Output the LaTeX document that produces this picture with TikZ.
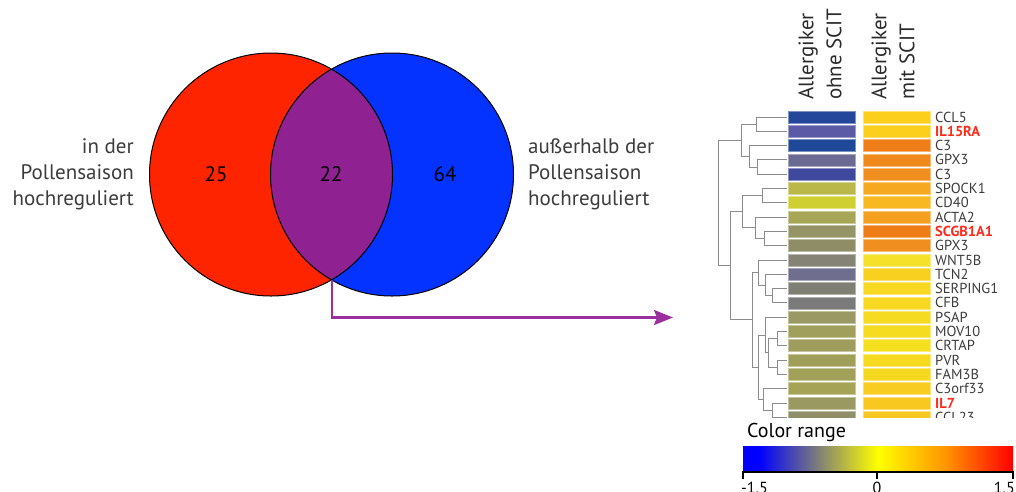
\documentclass[tikz,border=0pt]{standalone}
\usepackage{fontspec}
\setmainfont{PT Sans}
\usetikzlibrary{arrows.meta}
\definecolor{vred}{HTML}{FF2400}
\definecolor{vblue}{HTML}{0433FF}
\definecolor{vpurp}{HTML}{8F2290}
\definecolor{lila}{HTML}{9B2FA0}
\definecolor{ink}{HTML}{2A2A2A}
\definecolor{mut}{HTML}{3C3C3C}
\definecolor{dendro}{HTML}{8C8C8C}
\definecolor{hot}{HTML}{FF2A1A}
\definecolor{barblue}{HTML}{0000FF}
\definecolor{bargray}{HTML}{808078}
\definecolor{baryel}{HTML}{FFFF00}
\definecolor{barorg}{HTML}{FF9500}
\definecolor{barred}{HTML}{FF0000}
\pgfdeclarehorizontalshading{colrange}{100bp}{color(0bp)=(barblue); color(28bp)=(barblue);
  color(39bp)=(bargray); color(50bp)=(baryel); color(62.5bp)=(barorg); color(75bp)=(barred);
  color(100bp)=(barred)}

\begin{document}
\begin{tikzpicture}[x=1pt,y=-1pt,
    venntxt/.style={font=\fontsize{21}{26}\selectfont,color=mut,inner sep=0pt},
    vennnum/.style={font=\fontsize{21}{26}\selectfont,color=black},
    hdr/.style={font=\fontsize{21}{28}\selectfont,color=ink,rotate=90,anchor=west,align=left,inner sep=0pt},
    gene/.style={font=\fontsize{14.5}{15}\selectfont,color=mut,anchor=west,inner sep=0pt},
    hot/.style={gene,color=hot,font=\fontsize{14.5}{15}\selectfont\bfseries},
    dlink/.style={dendro,line width=1pt}]
  \useasboundingbox (0,0) rectangle (1016,491);
  % venn diagram
  \fill[vred] (271,174.5) circle[radius=121.5pt];
  \fill[vblue] (392,174.5) circle[radius=121.5pt];
  \begin{scope}
    \clip (271,174.5) circle[radius=121.5pt];
    \fill[vpurp] (392,174.5) circle[radius=121.5pt];
  \end{scope}
  \draw[line width=1pt] (271,174.5) circle[radius=121.5pt]
    (392,174.5) circle[radius=121.5pt];
  \node[vennnum] (n25) at (216,174) {25};
  \node[vennnum] (n22) at (331,174) {22};
  \node[vennnum] (n64) at (445,174) {64};
  \node[venntxt,anchor=east,align=right] (intxt) at (134,174)
    {in der\\Pollensaison\\hochreguliert};
  \node[venntxt,anchor=west,align=left] (outtxt) at (528,174)
    {außerhalb der\\Pollensaison\\hochreguliert};
  % arrow to the heat map
  \coordinate (lensbot) at (332,279.5);
  \coordinate (arrtip) at (673,317.5);
  \draw[lila,line width=2.5pt,-{Stealth[length=19pt,width=15pt,inset=3pt]}]
    (lensbot) |- (arrtip);
  % column heads
  \node[hdr] (hdra) at (820,100) {Allergiker\\ohne SCIT};
  \node[hdr] (hdrb) at (893,100) {Allergiker\\mit SCIT};
  % heat map, cut off below
  \begin{scope}
    \clip (700,100) rectangle (1016,417.5);
    \foreach \i/\ca/\cb/\gene/\sty in {
        0/24479C/FCCF1C/CCL5/gene,
        1/5A5AA6/FCCF1C/IL15RA/hot,
        2/1F4898/EF7E18/C3/gene,
        3/6B6A92/F0891C/GPX3/gene,
        4/3E499E/F08F20/C3/gene,
        5/B9B849/F6A920/SPOCK1/gene,
        6/CFCF31/F8B821/CD40/gene,
        7/A7A657/F4A020/ACTA2/gene,
        8/959466/EE7D18/SCGB1A1/hot,
        9/8E8D66/F08F20/GPX3/gene,
        10/848375/F5E02A/WNT5B/gene,
        11/6F6E8E/F8D020/TCN2/gene,
        12/807F74/F8D820/SERPING1/gene,
        13/7A7A7A/F8D820/CFB/gene,
        14/9A9963/F5DC22/PSAP/gene,
        15/A09F5B/F5DC20/MOV10/gene,
        16/9E9D5D/F5E020/CRTAP/gene,
        17/A09F59/F5DA20/PVR/gene,
        18/A2A15A/F5D820/FAM3B/gene,
        19/A5A456/F8CC20/C3orf33/gene,
        20/9A9961/F8C820/IL7/hot,
        21/908F69/F8C820/CCL23/gene}{
      \definecolor{cella}{HTML}{\ca}
      \definecolor{cellb}{HTML}{\cb}
      \filldraw[fill=cella,draw=cella!60!white,line width=0.8pt]
        (788.5,111+14.3*\i) rectangle ++(67,12);
      \filldraw[fill=cellb,draw=cellb!60!white,line width=0.8pt]
        (863.5,111+14.3*\i) rectangle ++(67,12);
      \node[\sty] (g\i) at (935,117+14.3*\i) {\gene};
    }
    % dendrogram: node x / child a (x,y) / child b (x,y)
    \foreach \x/\xa/\ya/\xb/\yb in {
        756/787/117/787/131.3,
        757/787/159.9/787/174.2,
        749/787/145.6/757/167.05,
        741/756/124.15/749/156.3,
        762/787/188.5/787/202.8,
        764/787/231.4/787/245.7,
        755/787/217.1/764/238.55,
        742/762/195.65/755/227.8,
        772/787/288.6/787/302.9,
        765/787/274.3/772/295.75,
        758/787/260/765/285,
        777/787/331.5/787/345.8,
        777/787/360.1/787/374.4,
        768/777/338.65/777/367.25,
        765/787/317.2/768/352.95,
        772/787/403/787/417.3,
        763/787/388.7/772/410.15,
        758/765/335.1/763/399.4,
        752/758/272.5/758/367.25,
        730/742/211.7/752/319.9,
        718/741/140.2/730/265.8}{
      \draw[dlink] (\xa,\ya) -| (\x,\yb) -- (\xb,\yb);
    }
  \end{scope}
  % colour bar
  \node[anchor=base west,inner sep=0pt,font=\fontsize{20}{24}\selectfont,color=black]
    (crange) at (747,437) {Color range};
  \shade[shading=colrange] (743,446) rectangle (1013,472);
  \draw[line width=2pt] (743,479) -- (743,472) -- (1013,472) -- (1013,479);
  \draw[line width=2pt] (877,472) -- (877,479);
  \node[anchor=north west,inner sep=0pt,font=\fontsize{16}{18}\selectfont] (lmin) at (741,482) {-1.5};
  \node[anchor=north,inner sep=0pt,font=\fontsize{16}{18}\selectfont] (lnull) at (877,482) {0};
  \node[anchor=north east,inner sep=0pt,font=\fontsize{16}{18}\selectfont] (lmax) at (1015,482) {1.5};
\end{tikzpicture}
\end{document}
